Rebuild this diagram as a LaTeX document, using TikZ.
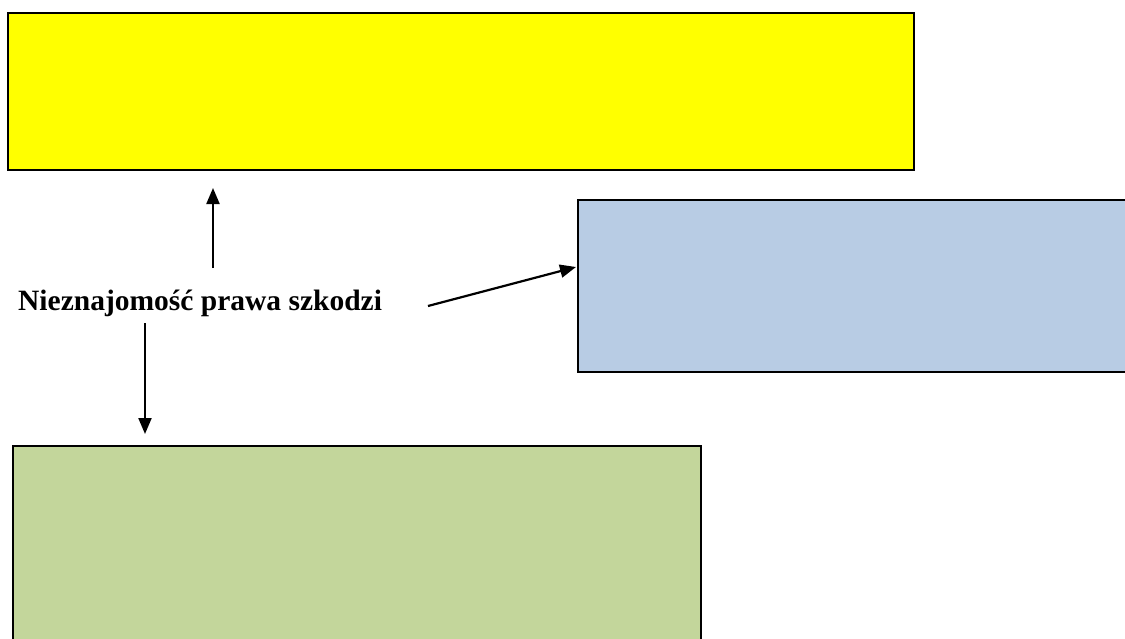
\documentclass[tikz,border=0pt]{standalone}
\usepackage{fontspec}
\setmainfont{Liberation Serif}
\usetikzlibrary{arrows.meta}
\definecolor{boxyellow}{HTML}{FFFF00}
\definecolor{boxblue}{HTML}{B8CCE4}
\definecolor{boxgreen}{HTML}{C3D69B}
\tikzset{
  panel/.style={draw=black, line width=2pt, anchor=north west, inner sep=0pt},
  conn/.style={line width=2.2pt, -{Triangle[length=16pt,width=13pt]}},
  label/.style={font=\bfseries\fontsize{29.5pt}{34pt}\selectfont, inner sep=0pt}
}
\begin{document}
\begin{tikzpicture}[x=1pt,y=-1pt]
\useasboundingbox (0,0) rectangle (1125,638);
\node[panel, fill=boxyellow, minimum width=906pt, minimum height=157pt] (yellow) at (7,12) {};
\node[panel, fill=boxblue, minimum width=560pt, minimum height=172pt] (blue) at (577,199) {};
\node[panel, fill=boxgreen, minimum width=688pt, minimum height=220pt] (green) at (12,445) {};
\node[label, anchor=base west] (txt) at (18,310) {Nieznajomość prawa szkodzi};
\coordinate (upS) at (213,268);
\coordinate (upE) at (213,188);
\coordinate (dnS) at (145,323);
\coordinate (dnE) at (145,434);
\coordinate (slS) at (428,306);
\coordinate (slE) at (576,267);
\draw[conn] (upS) -- (upE);
\draw[conn] (dnS) -- (dnE);
\draw[conn] (slS) -- (slE);
\end{tikzpicture}
\end{document}
